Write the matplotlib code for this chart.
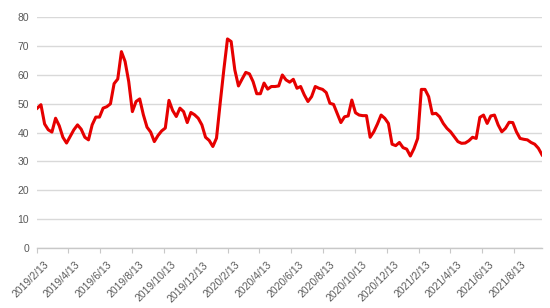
import numpy as np
import pandas as pd
import matplotlib
matplotlib.use('Agg')
import matplotlib.pyplot as plt
import matplotlib.transforms as mtransforms

# weekly values, starting 2019/2/13
start_date = '2019-02-13'
values = [48.5, 49.7, 43.0, 41.0, 40.2, 45.0, 42.4, 38.4, 36.4, 38.7,
          41.0, 42.7, 41.2, 38.4, 37.5, 42.7, 45.4, 45.4, 48.5, 49.0,
          50.0, 57.0, 58.6, 68.1, 64.7, 57.7, 47.3, 50.8, 51.7, 46.2,
          41.9, 40.2, 36.9, 39.0, 40.6, 41.6, 51.2, 47.7, 45.6, 48.5,
          47.3, 43.5, 47.0, 46.2, 45.0, 42.7, 38.4, 37.3, 35.2, 38.1,
          50.2, 61.8, 72.5, 71.6, 61.8, 56.2, 58.6, 60.9, 60.4, 57.7,
          53.5, 53.5, 57.2, 55.1, 56.0, 56.0, 56.2, 60.0, 58.3, 57.5,
          58.5, 55.4, 56.0, 53.1, 50.8, 52.5, 56.0, 55.4, 55.0, 53.9,
          50.2, 49.8, 46.7, 43.5, 45.5, 45.8, 51.3, 46.9, 46.1, 45.9,
          45.9, 38.4, 40.3, 43.0, 46.1, 45.0, 43.2, 36.0, 35.5, 36.6,
          34.8, 34.3, 31.9, 34.5, 38.0, 55.0, 55.0, 52.5, 46.5, 46.7,
          45.5, 43.2, 41.5, 40.3, 38.6, 36.9, 36.3, 36.4, 37.2, 38.4,
          38.0, 45.3, 46.1, 43.2, 45.8, 46.1, 42.7, 40.3, 41.5, 43.6,
          43.5, 40.3, 38.0, 37.7, 37.5, 36.6, 36.0, 34.6, 32.3]

tick_labels = ['2019/2/13', '2019/4/13', '2019/6/13', '2019/8/13', '2019/10/13',
               '2019/12/13', '2020/2/13', '2020/4/13', '2020/6/13', '2020/8/13',
               '2020/10/13', '2020/12/13', '2021/2/13', '2021/4/13', '2021/6/13',
               '2021/8/13']

dates = pd.date_range(start_date, periods=len(values), freq='7D')
tick_dates = pd.to_datetime(tick_labels, format='%Y/%m/%d')

plt.rcParams['font.family'] = ['Liberation Sans', 'DejaVu Sans']
gray = '#595959'

fig = plt.figure(figsize=(5.5, 3.08), dpi=100)
ax = fig.add_axes([0.0678, 0.1948, 0.9177, 0.749])

ax.plot(dates, values, color='#e60000', linewidth=2.2, solid_joinstyle='round')

ax.set_ylim(0, 80)
ax.set_yticks(np.arange(0, 81, 10))
ax.set_xlim(dates[0], dates[-1])
ax.set_xticks(tick_dates)
ax.set_xticklabels(tick_labels, rotation=45, ha='right', va='top',
                   rotation_mode='anchor')

ax.grid(axis='y', color='#d9d9d9', linewidth=1.0)
ax.set_axisbelow(True)
for s in ['top', 'right', 'left']:
    ax.spines[s].set_visible(False)
ax.spines['bottom'].set_color('#c8c8c8')
ax.spines['bottom'].set_linewidth(1.0)

ax.tick_params(axis='y', length=0, pad=6, labelsize=7.5, labelcolor=gray)
ax.tick_params(axis='x', length=3.5, width=0.8, color='#c8c8c8', pad=2,
               labelsize=7.5, labelcolor=gray)

offset = mtransforms.ScaledTranslation(5/72, -3/72, fig.dpi_scale_trans)
for lab in ax.get_xticklabels():
    lab.set_transform(lab.get_transform() + offset)

plt.savefig('out.png', dpi=100)
